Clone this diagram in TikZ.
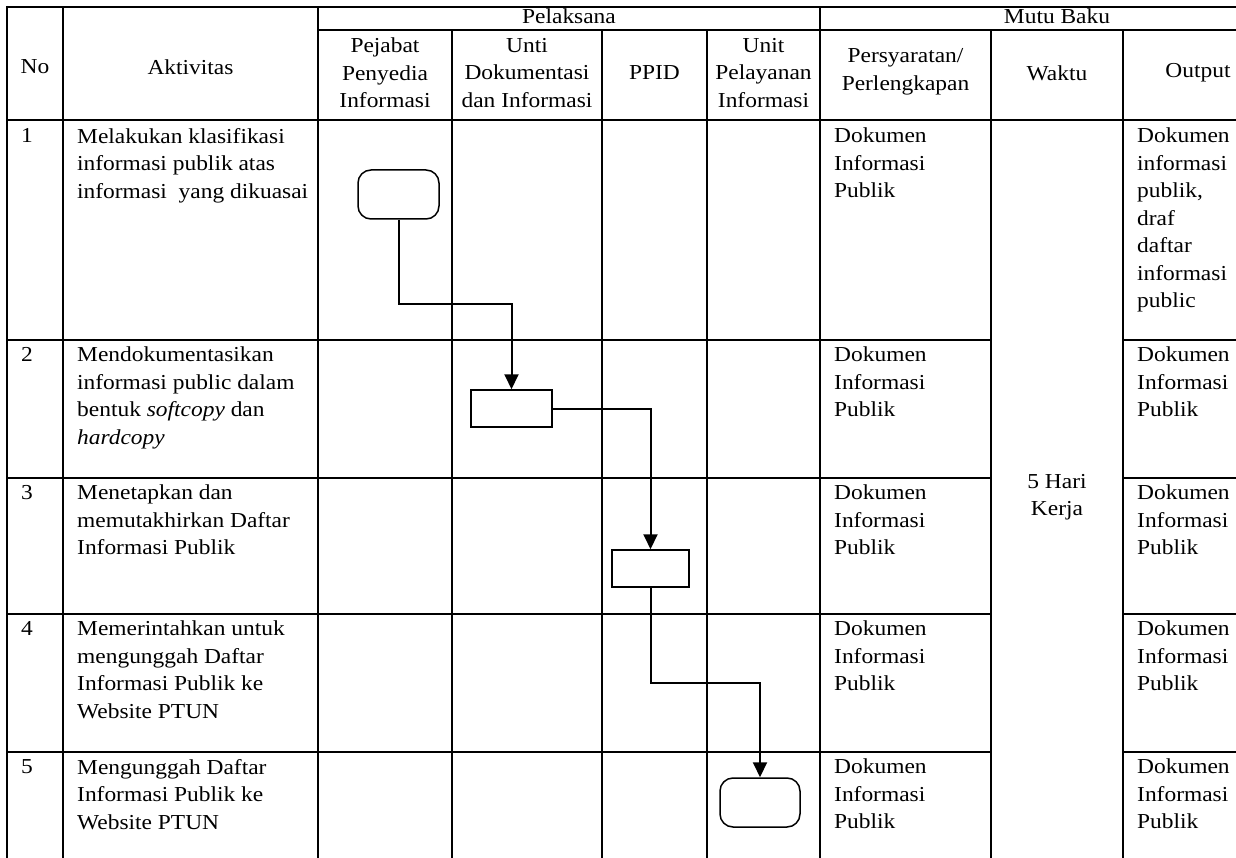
\documentclass[tikz,border=0pt]{standalone}
\usepackage{fontspec}
\setmainfont{Liberation Serif}[FakeStretch=1.1]
\usetikzlibrary{arrows.meta}

\tikzset{
  tableline/.style={line width=2pt},
  termbox/.style={draw, line width=1.5pt, rounded corners=13pt, minimum width=81pt, minimum height=49pt, inner sep=0pt},
  procbox/.style={draw, line width=1.5pt, minimum width=81pt, minimum height=37pt, inner sep=0pt},
  flow/.style={line width=2pt, -{Triangle[length=15pt,width=14pt]}},
  cell/.style={anchor=north west, inner sep=0pt, align=left},
  head/.style={inner sep=0pt, align=center}
}

\begin{document}
\begin{tikzpicture}[x=1pt,y=-1pt,font=\fontsize{21.3}{27.5}\selectfont]
      \clip (0,0) rectangle (1236,858);

      \draw[tableline] (7,7) -- (1300,7);
      \draw[tableline] (318,30) -- (1300,30);
      \draw[tableline] (7,120) -- (1300,120);
      \draw[tableline] (7,340) -- (991,340);
      \draw[tableline] (1123,340) -- (1300,340);
      \draw[tableline] (7,478) -- (991,478);
      \draw[tableline] (1123,478) -- (1300,478);
      \draw[tableline] (7,614) -- (991,614);
      \draw[tableline] (1123,614) -- (1300,614);
      \draw[tableline] (7,752) -- (991,752);
      \draw[tableline] (1123,752) -- (1300,752);

      \draw[tableline] (7,6) -- (7,900);
      \draw[tableline] (63,7) -- (63,900);
      \draw[tableline] (318,7) -- (318,900);
      \draw[tableline] (452,30) -- (452,900);
      \draw[tableline] (602,30) -- (602,900);
      \draw[tableline] (707,30) -- (707,900);
      \draw[tableline] (820,7) -- (820,900);
      \draw[tableline] (991,30) -- (991,900);
      \draw[tableline] (1123,30) -- (1123,900);

      \node[head] (hNo) at (35,67) {No};
      \node[head] (hAkt) at (190.5,67) {Aktivitas};
      \node[head] (hPel) at (569,16) {Pelaksana};
      \node[head] (hMutu) at (1057,16) {Mutu Baku};
      \node[head] (hPejabat) at (385,73) {Pejabat\\Penyedia\\Informasi};
      \node[head] (hDok) at (527,73) {Unti\\Dokumentasi\\dan Informasi};
      \node[head] (hPPID) at (654.5,73) {PPID};
      \node[head] (hUnit) at (763.5,73) {Unit\\Pelayanan\\Informasi};
      \node[head] (hSyarat) at (905.5,72) {Persyaratan/\\Perlengkapan};
      \node[head] (hWaktu) at (1057,73) {Waktu};
      \node[head] (hOut) at (1198,73) {Output};

      \node[cell] (no1) at (21,128) {1};
      \node[cell] (no2) at (21,347) {2};
      \node[cell] (no3) at (21,485) {3};
      \node[cell] (no4) at (21,621) {4};
      \node[cell] (no5) at (21,759) {5};

      \node[cell] (akt1) at (77,128) {Melakukan klasifikasi\\informasi publik atas\\informasi\ \ yang dikuasai};
      \node[cell] (akt2) at (77,347) {Mendokumentasikan\\informasi public dalam\\bentuk \textit{softcopy} dan\\\textit{hardcopy}};
      \node[cell] (akt3) at (77,485) {Menetapkan dan\\memutakhirkan Daftar\\Informasi Publik};
      \node[cell] (akt4) at (77,621) {Memerintahkan untuk\\mengunggah Daftar\\Informasi Publik ke\\Website PTUN};
      \node[cell] (akt5) at (77,759) {Mengunggah Daftar\\Informasi Publik ke\\Website PTUN};

      \node[cell] (syarat1) at (834,128) {Dokumen\\Informasi\\Publik};
      \node[cell] (syarat2) at (834,347) {Dokumen\\Informasi\\Publik};
      \node[cell] (syarat3) at (834,485) {Dokumen\\Informasi\\Publik};
      \node[cell] (syarat4) at (834,621) {Dokumen\\Informasi\\Publik};
      \node[cell] (syarat5) at (834,759) {Dokumen\\Informasi\\Publik};

      \node[head] (waktu) at (1057,497) {5 Hari\\Kerja};

      \node[cell] (out1) at (1137,128) {Dokumen\\informasi\\publik,\\draf\\daftar\\informasi\\public};
      \node[cell] (out2) at (1137,347) {Dokumen\\Informasi\\Publik};
      \node[cell] (out3) at (1137,485) {Dokumen\\Informasi\\Publik};
      \node[cell] (out4) at (1137,621) {Dokumen\\Informasi\\Publik};
      \node[cell] (out5) at (1137,759) {Dokumen\\Informasi\\Publik};

      \node[termbox] (mulai) at (398.5,194.5) {};
      \node[procbox] (dokumentasi) at (511.5,408.5) {};
      \node[procbox, minimum width=77pt] (tetapkan) at (650.5,568.5) {};
      \node[termbox, minimum width=80pt] (unggah) at (760,802.5) {};

      \draw[flow] (mulai.south) -- ++(0,84) -| (dokumentasi.north);
      \draw[flow] (dokumentasi.east) -| (tetapkan.north);
      \draw[flow] (tetapkan.south) -- ++(0,95) -| (unggah.north);
\end{tikzpicture}
\end{document}
